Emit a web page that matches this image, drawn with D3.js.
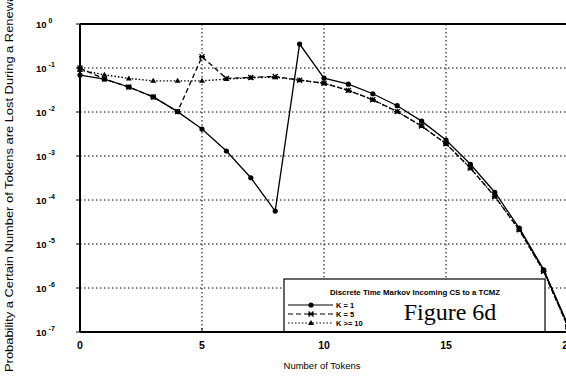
<!DOCTYPE html>
<html>
<head>
<meta charset="utf-8">
<script src="https://cdn.jsdelivr.net/npm/d3@7/dist/d3.min.js"></script>
<style>
  html, body { margin: 0; padding: 0; background: #fff; }
  svg { display: block; font-family: "Liberation Sans", Arial, sans-serif; }
</style>
</head>
<body>
<svg id="chart" width="566" height="377"></svg>
<script>
// Number of tokens lost (x) and probability for each K
const tokens = [0,1,2,3,4,5,6,7,8,9,10,11,12,13,14,15,16,17,18,19,20];
const k1 = [0.069,0.056,0.037,0.022,0.0102,0.0041,0.0013,0.00032,0.000056,0.35,0.059,0.043,0.026,0.0139,0.0062,0.0023,0.00065,0.00015,0.000023,0.0000026,0.00000014];
const k5 = [0.10,0.056,0.037,0.022,0.0102,0.18,0.058,0.061,0.064,0.053,0.045,0.031,0.019,0.0102,0.0048,0.0019,0.00053,0.00012,0.000021,0.0000024,0.00000013];
const k10 = [0.09,0.070,0.058,0.051,0.051,0.051,0.056,0.060,0.062,0.053,0.045,0.031,0.019,0.0102,0.0048,0.0019,0.00053,0.00012,0.000021,0.0000024,0.00000013];
const xTicks = [0,5,10,15,20];
const yExponents = [0,-1,-2,-3,-4,-5,-6,-7];
const seriesNames = ["K = 1","K = 5","K >= 10"];

const svg = d3.select("#chart");
const x = d3.scaleLinear().domain([0,20]).range([80,568]);
const y = d3.scaleLog().domain([1e-7,1]).range([332,24]);

// dotted grid
const grid = svg.append("g").attr("stroke","#000").attr("stroke-width",1)
  .attr("stroke-dasharray","1.5,2.5");
grid.selectAll("line.h").data(yExponents.slice(1,-1)).join("line")
  .attr("x1",x(0)).attr("x2",566).attr("y1",d=>y(Math.pow(10,d))).attr("y2",d=>y(Math.pow(10,d)));
grid.selectAll("line.v").data(xTicks.slice(1,-1)).join("line")
  .attr("y1",y(1)).attr("y2",y(1e-7)).attr("x1",d=>x(d)).attr("x2",d=>x(d));

// frame
svg.append("line").attr("x1",x(0)).attr("x2",566).attr("y1",y(1)).attr("y2",y(1))
  .attr("stroke","#000").attr("stroke-width",2);
svg.append("line").attr("x1",x(0)).attr("x2",566).attr("y1",y(1e-7)).attr("y2",y(1e-7))
  .attr("stroke","#000").attr("stroke-width",2);
svg.append("line").attr("x1",x(0)).attr("x2",x(0)).attr("y1",y(1)).attr("y2",y(1e-7))
  .attr("stroke","#000").attr("stroke-width",2);

// y ticks and labels
const yt = svg.append("g");
yExponents.forEach(e => {
  const yy = y(Math.pow(10,e));
  yt.append("line").attr("x1",x(0)-4).attr("x2",x(0)).attr("y1",yy).attr("y2",yy)
    .attr("stroke","#000").attr("stroke-width",1);
  const t = yt.append("text").attr("x",36).attr("y",yy+3.5).attr("font-size",9.5).attr("font-weight","bold");
  t.append("tspan").text("10");
  t.append("tspan").attr("dy",-4.5).attr("dx",2).attr("font-size",7).text(e === 0 ? "0" : "-" + (-e));
});

// x ticks and labels
const xt = svg.append("g");
xTicks.forEach(v => {
  xt.append("line").attr("x1",x(v)).attr("x2",x(v)).attr("y1",y(1e-7)).attr("y2",y(1e-7)-4)
    .attr("stroke","#000");
  xt.append("text").attr("x",x(v)).attr("y",349).attr("text-anchor","middle")
    .attr("font-size",10.5).attr("font-weight","bold").text(v);
});

// axis titles
svg.append("text").attr("x",322).attr("y",369).attr("text-anchor","middle")
  .attr("font-size",9.5).text("Number of Tokens");
svg.append("text").attr("transform","translate(13,372) rotate(-90)")
  .attr("font-size",10.5).attr("textLength",380).attr("lengthAdjust","spacingAndGlyphs")
  .text("Probability a Certain Number of Tokens are Lost During a Renewal");

// series
const line = d3.line().x((d,i)=>x(tokens[i])).y(d=>y(d));
const styles = [
  {data:k1, dash:null, marker:"circle"},
  {data:k5, dash:"5,3", marker:"cross"},
  {data:k10, dash:"1.5,2", marker:"triangle"}
];
function drawMarker(g, type, cx, cy) {
  if (type === "circle") {
    g.append("circle").attr("cx",cx).attr("cy",cy).attr("r",2.6).attr("fill","#000");
  } else if (type === "cross") {
    g.append("path").attr("d",`M${cx-2.5},${cy-2.5}L${cx+2.5},${cy+2.5}M${cx-2.5},${cy+2.5}L${cx+2.5},${cy-2.5}M${cx-3},${cy}L${cx+3},${cy}`)
      .attr("stroke","#000").attr("stroke-width",1.3).attr("fill","none");
  } else {
    g.append("path").attr("d",`M${cx},${cy-3}L${cx+3},${cy+2}L${cx-3},${cy+2}Z`).attr("fill","#000");
  }
}
styles.slice().reverse().forEach(s => {
  const g = svg.append("g");
  g.append("path").datum(s.data).attr("d",line).attr("fill","none").attr("stroke","#000")
    .attr("stroke-width",s.dash === "1.5,2" ? 1.4 : 1.3).attr("stroke-dasharray",s.dash);
  s.data.forEach((v,i) => drawMarker(g, s.marker, x(tokens[i]), y(v)));
});

// legend
const lg = svg.append("g");
lg.append("rect").attr("x",284).attr("y",279).attr("width",261).attr("height",y(1e-7)-279)
  .attr("fill","#fff").attr("stroke","#000").attr("stroke-width",1.2);
lg.append("text").attr("x",415).attr("y",295).attr("text-anchor","middle")
  .attr("font-size",7.8).attr("font-weight","bold")
  .text("Discrete Time Markov Incoming CS to a TCMZ");
seriesNames.forEach((name,i) => {
  const yy = 305 + i*9;
  lg.append("line").attr("x1",288).attr("x2",333).attr("y1",yy).attr("y2",yy)
    .attr("stroke","#000").attr("stroke-width",1.2).attr("stroke-dasharray",styles[i].dash);
  drawMarker(lg, styles[i].marker, 311, yy);
  lg.append("text").attr("x",336).attr("y",yy+3).attr("font-size",7.5).attr("font-weight","bold").text(name);
});
lg.append("text").attr("x",450).attr("y",320).attr("text-anchor","middle")
  .attr("font-family","'Liberation Serif', 'Times New Roman', serif").attr("font-size",24)
  .text("Figure 6d");
svg.append("line").attr("x1",284).attr("x2",545).attr("y1",y(1e-7)).attr("y2",y(1e-7))
  .attr("stroke","#000").attr("stroke-width",2);
// the K=1 curve passes over the legend box edge at the right
svg.append("path").datum(k1.slice(18)).attr("d",d3.line().x((d,i)=>x(tokens[18+i])).y(d=>y(d)))
  .attr("fill","none").attr("stroke","#000").attr("stroke-width",1.3);
drawMarker(svg, "circle", x(20), y(k1[20]));
</script>
</body>
</html>
